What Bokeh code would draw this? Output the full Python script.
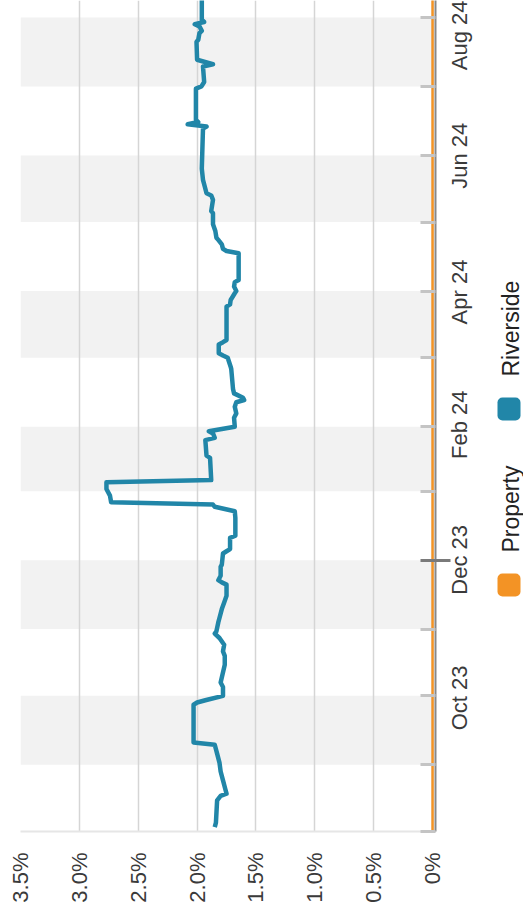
import math
import pandas as pd
from bokeh.plotting import figure
from bokeh.layouts import row
from bokeh.models import (Range1d, LinearAxis, FixedTicker, DatetimeTickFormatter,
                          BoxAnnotation, ColumnDataSource)
from bokeh.core.properties import value
from bokeh.embed import file_html
from bokeh.resources import INLINE

# ---------------- data ----------------
riverside_dates = [
    "2023-09-03", "2023-09-05", "2023-09-15", "2023-09-17", "2023-09-18", "2023-09-20", "2023-09-24", "2023-09-28",
    "2023-10-02", "2023-10-06", "2023-10-10", "2023-10-11", "2023-10-28", "2023-10-29", "2023-10-30",
    "2023-11-01", "2023-11-05", "2023-11-07", "2023-11-15", "2023-11-19", "2023-11-21", "2023-11-24", "2023-11-27",
    "2023-11-29", "2023-11-30",
    "2023-12-04", "2023-12-06", "2023-12-10", "2023-12-13", "2023-12-16", "2023-12-21", "2023-12-22", "2023-12-23",
    "2023-12-25", "2023-12-29", "2023-12-30",
    "2024-01-04", "2024-01-05", "2024-01-06", "2024-01-11", "2024-01-12", "2024-01-20", "2024-01-23", "2024-01-24",
    "2024-01-25", "2024-01-26", "2024-01-27", "2024-01-30",
    "2024-02-02", "2024-02-05", "2024-02-06", "2024-02-16", "2024-02-17", "2024-02-24", "2024-02-25", "2024-02-27",
    "2024-02-28",
    "2024-03-01", "2024-03-05", "2024-03-07", "2024-03-10", "2024-03-12", "2024-03-13", "2024-03-14", "2024-03-16",
    "2024-03-18", "2024-03-27", "2024-03-28",
    "2024-04-01", "2024-04-02", "2024-04-03", "2024-04-07", "2024-04-08", "2024-04-09", "2024-04-24", "2024-04-25",
    "2024-04-27", "2024-04-30",
    "2024-05-01", "2024-05-03", "2024-05-05", "2024-05-06", "2024-05-18", "2024-05-19", "2024-05-20", "2024-05-22",
    "2024-05-24", "2024-05-25", "2024-05-28", "2024-05-31",
    "2024-06-05", "2024-06-06", "2024-06-11", "2024-06-13", "2024-06-14", "2024-06-17", "2024-06-20", "2024-06-25",
    "2024-07-13", "2024-07-14", "2024-07-15", "2024-07-16", "2024-07-17", "2024-07-31",
    "2024-08-01", "2024-08-03", "2024-08-10", "2024-08-11", "2024-08-13", "2024-08-21", "2024-08-22", "2024-08-25",
    "2024-08-26", "2024-08-28", "2024-08-29", "2024-08-30", "2024-08-31",
    "2024-09-09",
]
riverside_values = [
    1.85, 1.84, 1.83, 1.80, 1.75, 1.76, 1.78, 1.80,
    1.81, 1.83, 1.85, 2.03, 2.03, 2.00, 1.93,
    1.78, 1.78, 1.80, 1.765, 1.765, 1.78, 1.77, 1.81, 1.85, 1.836,
    1.82, 1.81, 1.79, 1.77, 1.75, 1.75, 1.79, 1.82, 1.80, 1.80, 1.79,
    1.78, 1.75, 1.72, 1.72, 1.675, 1.675, 1.68, 1.765, 1.85, 1.865, 2.73, 2.74,
    2.77, 2.77, 1.88, 1.89, 1.92, 1.93, 1.85, 1.865, 1.90,
    1.68, 1.686, 1.667, 1.68, 1.667, 1.60, 1.61, 1.686, 1.695, 1.71, 1.715,
    1.74, 1.78, 1.816, 1.816, 1.78, 1.75, 1.75, 1.72, 1.715, 1.68,
    1.667, 1.686, 1.68, 1.647, 1.647, 1.75, 1.78, 1.79, 1.82, 1.836, 1.845, 1.865,
    1.865, 1.88, 1.865, 1.88, 1.92, 1.935, 1.95, 1.96,
    1.95, 1.92, 2.08, 1.99, 2.01, 2.01,
    1.963, 1.94, 1.95, 1.865, 2.00, 2.005, 1.99, 1.98, 1.96, 1.98, 2.02, 1.94, 1.96,
    1.96,
]
property_dates = ["2023-09-01", "2024-09-09"]
property_values = [0.0, 0.0]

month_starts = ["2023-09-01", "2023-10-01", "2023-11-01", "2023-12-01", "2024-02-01", "2024-03-01",
                "2024-04-01", "2024-05-01", "2024-06-01", "2024-07-01", "2024-08-01", "2024-09-01"]
year_starts = ["2024-01-01"]
band_starts = ["2023-10-01", "2023-12-01", "2024-02-01", "2024-04-01", "2024-06-01", "2024-08-01"]
band_ends = ["2023-11-01", "2024-01-01", "2024-03-01", "2024-05-01", "2024-07-01", "2024-09-01"]
date_start = "2023-09-01"
date_end = "2024-09-08 15:30"

pct_ticks = [0, 0.5, 1.0, 1.5, 2.0, 2.5, 3.0, 3.5]
pct_labels = ["0%", "0.5%", "1.0%", "1.5%", "2.0%", "2.5%", "3.0%", "3.5%"]

series_names = ["Property", "Riverside"]
series_colors = ["#f39325", "#2186a8"]


def ms(s):
    return int(pd.Timestamp(s).value // 10**6)


FONT = "Liberation Sans"
AXIS_COLOR = "#3a3a3a"

# ---------------- main figure ----------------
p = figure(width=487, height=924,
           x_range=Range1d(3.5, -0.025),
           y_range=Range1d(ms(date_start), ms(date_end)),
           y_axis_location=None,
           output_backend="svg", toolbar_location=None,
           min_border_left=20, min_border_right=50, min_border_top=0, min_border_bottom=93)
p.outline_line_color = None
p.background_fill_color = "white"
p.frame_align = False

for s, e in zip(band_starts, band_ends):
    p.add_layout(BoxAnnotation(bottom=ms(s), top=ms(e), fill_color="#f2f2f2", fill_alpha=1.0,
                               line_color=None, level="image"))

p.xaxis.ticker = FixedTicker(ticks=pct_ticks)
p.xaxis.major_label_overrides = {t: l for t, l in zip(pct_ticks, pct_labels)}
p.xaxis.major_label_orientation = math.pi / 2
p.xaxis.major_label_standoff = 21
p.xaxis.major_tick_in = 0
p.xaxis.major_tick_out = 0
p.xaxis.minor_tick_line_color = None
p.xaxis.axis_line_color = "#e6e6e6"
p.xaxis.axis_line_width = 2
p.xaxis.major_label_text_font = FONT
p.xaxis.major_label_text_font_size = "22px"
p.xaxis.major_label_text_color = AXIS_COLOR

p.xgrid.ticker = FixedTicker(ticks=pct_ticks)
p.xgrid.grid_line_color = "#d5d5d5"
p.xgrid.grid_line_width = 1.5
p.ygrid.visible = False

tick_axis = LinearAxis(ticker=FixedTicker(ticks=[ms(d) for d in year_starts],
                                          minor_ticks=[ms(d) for d in month_starts]),
                       axis_line_color="#888888", axis_line_width=2,
                       major_tick_in=15, major_tick_out=15,
                       major_tick_line_color="#7a7a7a", major_tick_line_width=3,
                       minor_tick_in=15, minor_tick_out=0,
                       minor_tick_line_color="#c4c4c4", minor_tick_line_width=3,
                       major_label_overrides={ms(d): "" for d in year_starts},
                       major_label_standoff=0)
p.add_layout(tick_axis, "right")

label_ticks = [(ms(s) + ms(e)) // 2 for s, e in zip(band_starts, band_ends)]
label_axis = LinearAxis(ticker=FixedTicker(ticks=label_ticks),
                        formatter=DatetimeTickFormatter(days="%b %y", months="%b %y", years="%b %y"),
                        axis_line_color=None, major_tick_in=0, major_tick_out=0,
                        minor_tick_line_color=None,
                        major_label_orientation=math.pi / 2, major_label_standoff=9,
                        major_label_text_font=FONT, major_label_text_font_size="22px",
                        major_label_text_color=AXIS_COLOR)
p.add_layout(label_axis, "right")

prop_src = ColumnDataSource(dict(x=property_values, y=[ms(d) for d in property_dates]))
riv_src = ColumnDataSource(dict(x=riverside_values, y=[ms(d) for d in riverside_dates]))
p.line("x", "y", source=prop_src, line_color=series_colors[0], line_width=2.5)
p.line("x", "y", source=riv_src, line_color=series_colors[1], line_width=4.5, line_join="round")

# ---------------- legend strip (pixel coordinates, y downward) ----------------
lg = figure(width=36, height=924, x_range=Range1d(487, 523), y_range=Range1d(924, 0),
            output_backend="svg", toolbar_location=None,
            x_axis_location=None, y_axis_location=None,
            min_border_left=0, min_border_right=0, min_border_top=0, min_border_bottom=0)
lg.outline_line_color = None
lg.frame_align = False
lg.xgrid.visible = False
lg.ygrid.visible = False

swatch_tops = [573, 397]
text_starts = [552, 376]
for col, top in zip(series_colors, swatch_tops):
    lg.add_layout(BoxAnnotation(left=497, right=520, top=top, bottom=top + 23,
                                fill_color=col, fill_alpha=1.0, line_color=None, border_radius=5))
lg.text(x=[510, 510], y=text_starts, text=series_names, angle=math.pi / 2,
        text_align="left", text_baseline="alphabetic", text_font=value(FONT),
        text_font_size="23px", text_color="#222222")

layout = row(p, lg)
open("out.html", "w").write(file_html(layout, INLINE))
